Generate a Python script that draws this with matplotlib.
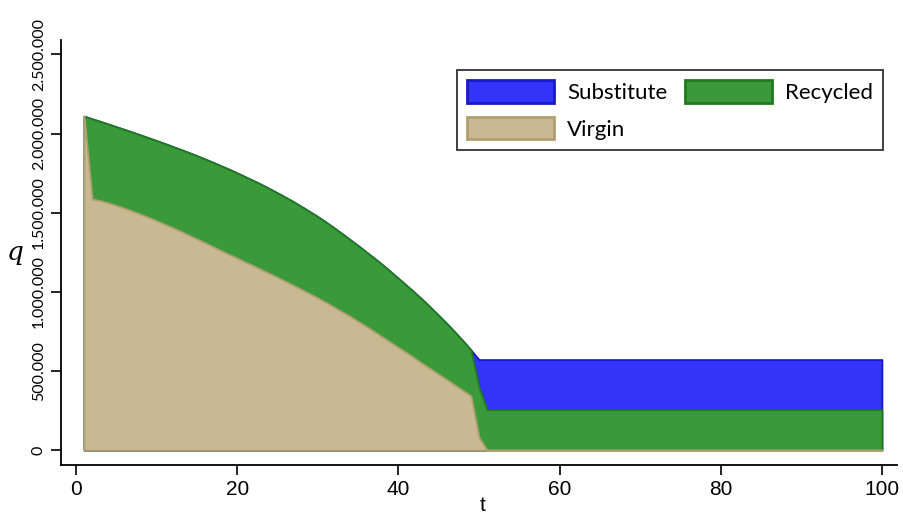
import numpy as np
import matplotlib.pyplot as plt
from matplotlib.patches import Patch
from matplotlib.ticker import FuncFormatter

# periods
t = np.arange(1, 101)

# quantities per period, in thousands
virgin = [2110, 1586, 1576, 1562, 1546, 1528, 1510, 1490, 1470, 1449,
          1427, 1405, 1382, 1358, 1334, 1310, 1285, 1260, 1236, 1213,
          1188, 1165, 1140, 1116, 1091, 1066, 1040, 1014, 988, 961,
          933, 904, 874, 845, 813, 782, 749, 715, 682, 648,
          616, 581, 546, 513, 479, 446, 411, 377, 343, 80,
          0] + [0] * 49
recycled = [0, 507, 501, 498, 497, 498, 499, 501, 503, 506,
            510, 513, 517, 522, 526, 529, 533, 536, 538, 538,
            539, 538, 538, 536, 534, 531, 529, 524, 519, 514,
            508, 501, 494, 485, 479, 470, 464, 457, 447, 437,
            425, 415, 404, 388, 372, 354, 335, 314, 290, 320,
            256] + [256] * 49
substitute = [0] * 49 + [172] + [316] * 50

face = {"Substitute": "#3434F8", "Recycled": "#3A9A3A", "Virgin": "#C8B994"}
edge = {"Substitute": "#1818C8", "Recycled": "#1F7A1F", "Virgin": "#B0A070"}

v = np.array(virgin) * 1000
vr = v + np.array(recycled) * 1000
tot = vr + np.array(substitute) * 1000

fig = plt.figure(figsize=(9.04, 5.15), dpi=100)
ax = fig.add_axes([0.0675, 0.097, 0.925, 0.825])

# stacked areas, drawn from the top layer down
ax.fill_between(t, 0, tot, facecolor=face["Substitute"], edgecolor=edge["Substitute"], lw=1.3)
ax.fill_between(t, 0, vr, facecolor=face["Recycled"], edgecolor=edge["Recycled"], lw=1.3)
ax.fill_between(t, 0, v, facecolor=face["Virgin"], edgecolor=edge["Virgin"], lw=1.3)

ax.set_xlim(-1.86, 101.9)
ax.set_ylim(-94500, 2590000)
ax.set_xticks([0, 20, 40, 60, 80, 100])
ax.set_yticks([0, 500000, 1000000, 1500000, 2000000, 2500000])
ax.yaxis.set_major_formatter(FuncFormatter(lambda y, p: f"{int(y):,}".replace(",", ".")))

for s in ["top", "right"]:
    ax.spines[s].set_visible(False)
for s in ["left", "bottom"]:
    ax.spines[s].set_linewidth(1.3)

ax.tick_params(axis="x", length=7, width=1.2, pad=4)
ax.tick_params(axis="y", length=7, width=1.2, pad=4)
for lab in ax.get_xticklabels():
    lab.set_family("Liberation Sans")
    lab.set_fontsize(15)
for lab in ax.get_yticklabels():
    lab.set_family("Lato")
    lab.set_fontsize(11.5)
    lab.set_rotation(90)
    lab.set_va("center")

ax.set_ylabel("q", family="DejaVu Serif", style="italic", fontsize=19,
              rotation=0, va="center", ha="center")
ax.yaxis.set_label_coords(-0.055, 0.5)
ax.set_xlabel("t", family="Liberation Sans", fontsize=15)
ax.xaxis.set_label_coords(0.504, -0.074)

# legend filled by column: Substitute/Virgin, then Recycled
order = ["Substitute", "Virgin", "Recycled"]
handles = [Patch(facecolor=face[k], edgecolor=edge[k], lw=2) for k in order]
leg = ax.legend(handles, order, ncol=2, loc="upper right",
                bbox_to_anchor=(883 / 904, 1 - 70 / 515), bbox_transform=fig.transFigure,
                prop={"family": "Lato", "size": 16}, frameon=True, fancybox=False,
                handlelength=3.9, handleheight=1.2, handletextpad=0.6,
                columnspacing=0.8, labelspacing=0.62, borderpad=0.45, borderaxespad=0)
leg.get_frame().set_edgecolor("black")
leg.get_frame().set_linewidth(1.3)

fig.savefig("out.png", dpi=100)
